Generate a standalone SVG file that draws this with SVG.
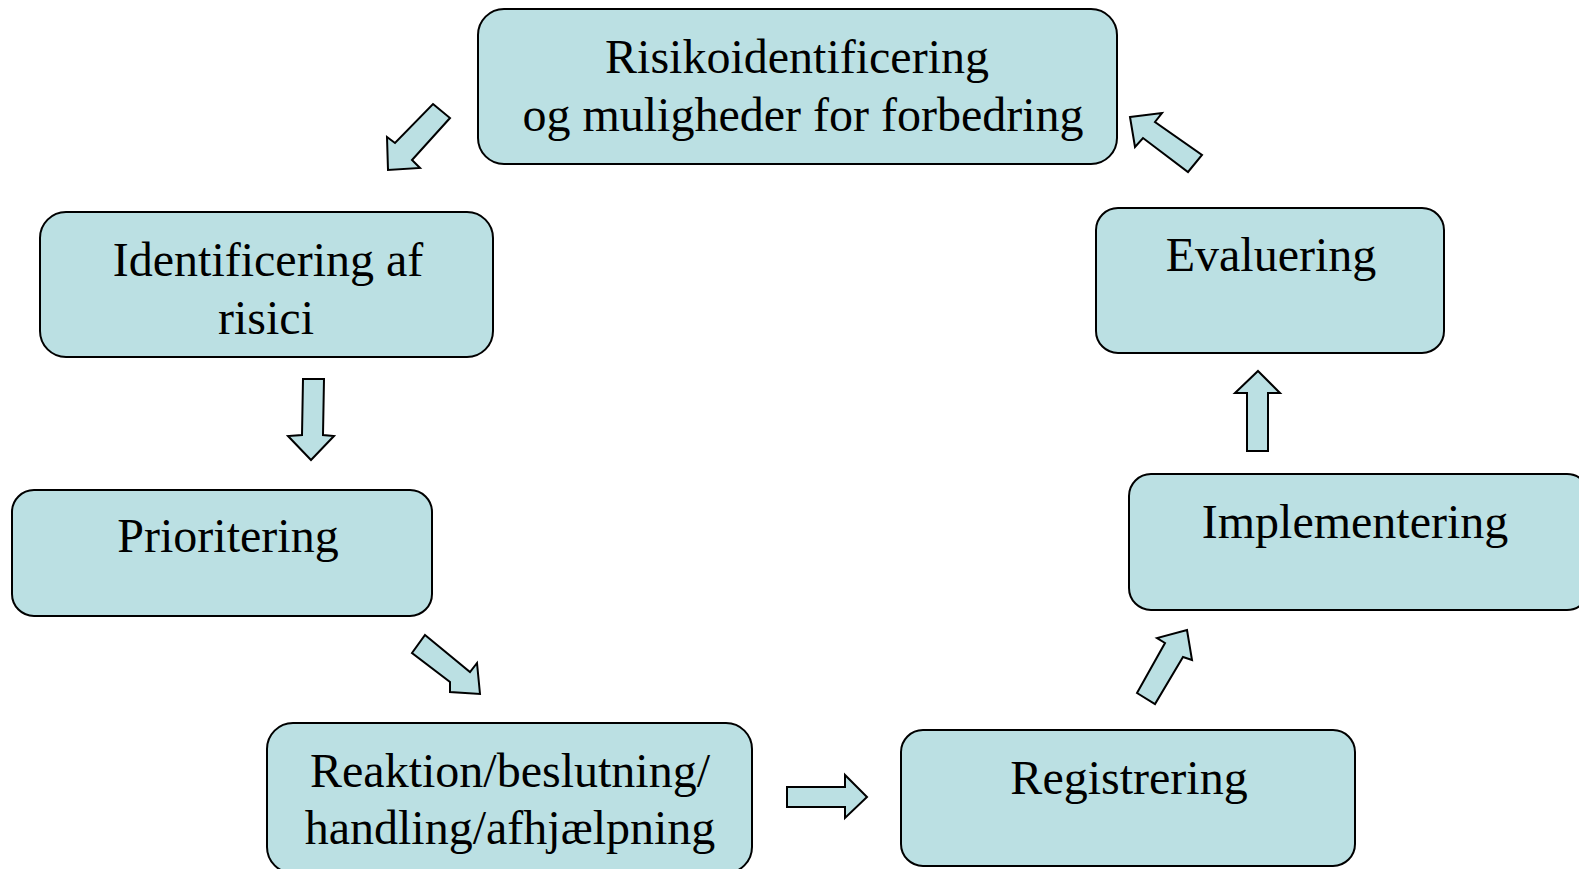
<svg xmlns="http://www.w3.org/2000/svg" width="1579" height="869" viewBox="0 0 1579 869">
<style>
.box{fill:#bbe0e3;stroke:#000;stroke-width:2}
.arr{fill:#bbe0e3;stroke:#000;stroke-width:2;stroke-linejoin:miter}
.t{font-family:"Liberation Serif","Times New Roman",serif;font-size:48px;fill:#000;text-anchor:middle}
</style>
<rect width="1579" height="869" fill="#fff"/>
<g id="n1"><rect class="box" x="478" y="9" width="639" height="155" rx="26"/>
<text class="t" x="797" y="73">Risikoidentificering</text>
<text class="t" x="803" y="131">og muligheder for forbedring</text></g>
<g id="n2"><rect class="box" x="40" y="212" width="453" height="145" rx="26"/>
<text class="t" x="268" y="276">Identificering af</text>
<text class="t" x="266" y="334">risici</text></g>
<g id="n3"><rect class="box" x="12" y="490" width="420" height="126" rx="22"/>
<text class="t" x="228" y="552">Prioritering</text></g>
<g id="n4"><rect class="box" x="267" y="723" width="485" height="150" rx="26"/>
<text class="t" x="510" y="787">Reaktion/beslutning/</text>
<text class="t" x="510" y="844">handling/afhjælpning</text></g>
<g id="n5"><rect class="box" x="901" y="730" width="454" height="136" rx="22"/>
<text class="t" x="1129" y="794">Registrering</text></g>
<g id="n6"><rect class="box" x="1129" y="474" width="460" height="136" rx="22"/>
<text class="t" x="1355" y="538">Implementering</text></g>
<g id="n7"><rect class="box" x="1096" y="208" width="348" height="145" rx="22"/>
<text class="t" x="1271" y="271">Evaluering</text></g>
<g id="connectors">
<polygon class="arr" points="433,104 450,118 412,160 420,168 388,170 387,137 395,143"/>
<polygon class="arr" points="303,379 324,379 323,435 334,436 311,460 288,436 302,435"/>
<polygon class="arr" points="425,635 470,672 477,663 480,694 450,692 450,682 412,653"/>
<polygon class="arr" points="787,787 845,787 845,775 867,797 845,818 845,807 787,807"/>
<polygon class="arr" points="1137,693 1165,643 1157,638 1187,630 1192,660 1183,657 1155,704"/>
<polygon class="arr" points="1258,371 1280,393 1268,393 1268,451 1247,451 1247,393 1235,393"/>
<polygon class="arr" points="1130,117 1162,113 1155,122 1202,155 1188,172 1143,138 1135,147"/>
</g>
</svg>
